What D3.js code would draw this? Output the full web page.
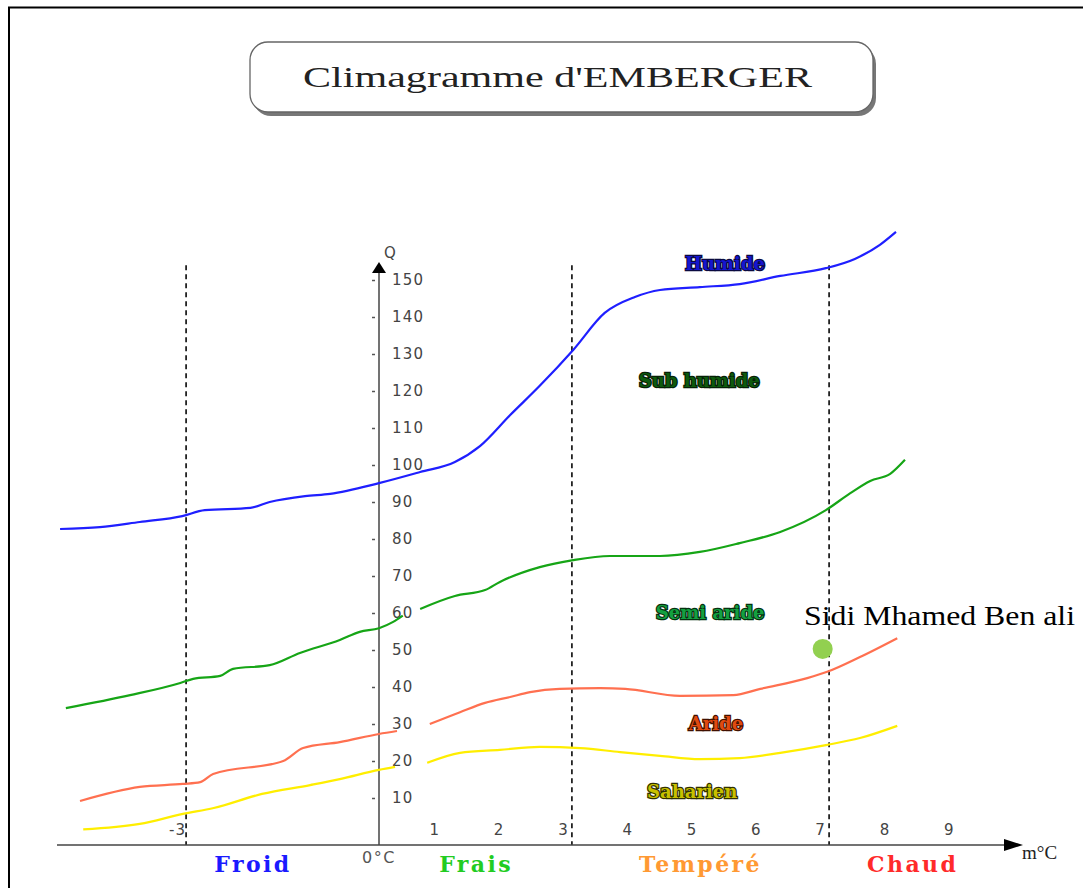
<!DOCTYPE html>
<html><head><meta charset="utf-8">
<script src="https://cdn.jsdelivr.net/npm/d3@7"></script>
<style>body{margin:0;background:#fff}svg{display:block}</style>
</head><body>
<script>
// ---- data (m in °C, Q) ----
const humideLimit = [[-4.96,82.7],[-4.34,83.2],[-3.72,84.6],[-3.06,86.2],[-2.71,87.8],[-2.0,88.4],[-1.70,90.0],[-1.15,91.6],[-0.76,92.2],[0,95.1],[0.64,98.1],[1.18,100.8],[1.57,105.1],[2.04,113.5],[2.50,121.4],[3.02,131.1],[3.51,141.1],[3.98,145.4],[4.37,147.3],[4.99,148.1],[5.61,148.9],[6.24,151.1],[6.95,153.2],[7.40,155.7],[7.79,159.5],[8.04,163.0]];
const subHumideLimit = [[-4.87,34.3],[-3.87,37.8],[-3.09,41.1],[-2.89,42.2],[-2.47,43.0],[-2.27,44.9],[-1.70,45.9],[-1.23,49.2],[-0.61,52.7],[-0.30,54.9],[0,55.9],[0.22,57.6],[0.37,59.3],null,[0.64,61.1],[1.18,64.6],[1.65,66.2],[1.88,68.4],[2.50,72.4],[3.02,74.3],[3.59,75.4],[4.37,75.4],[4.99,76.5],[5.61,78.9],[6.24,81.9],[6.95,87.8],[7.33,92.4],[7.64,95.7],[7.95,97.6],[8.18,101.4]];
const semiArideLimit = [[-4.65,9.2],[-3.72,13.0],[-3.05,13.8],[-2.78,14.3],[-2.58,16.5],[-1.49,20.0],[-1.18,23.5],[-0.61,25.1],[0,27.3],[0.28,28.1],null,[0.79,30.0],[1.26,33.2],[1.65,35.7],[2.04,37.3],[2.35,38.6],[2.81,39.5],[3.44,39.7],[3.83,39.5],[4.68,37.6],[5.51,37.8],[5.93,39.5],[6.66,42.4],[6.97,44.1],[7.48,48.1],[8.06,53.2]];
const arideLimit = [[-4.60,1.5],[-3.72,3.0],[-3.05,5.7],[-2.57,7.3],[-1.82,11.1],[-1.07,13.5],[-0.61,15.1],[0,17.6],[0.25,18.4],null,[0.75,19.5],[1.26,22.2],[1.88,23.0],[2.50,23.8],[3.13,23.5],[3.75,22.4],[4.37,21.4],[4.99,20.5],[5.61,20.8],[6.24,22.2],[6.95,24.3],[7.48,26.2],[8.06,29.5]];
const yTicks = [10,20,30,40,50,60,70,80,90,100,110,120,130,140,150];
const xTicks = [-3,1,2,3,4,5,6,7,8,9];
const dividers = [-3,3,7];
const zones = ["Froid","0°C","Frais","Tempéré","Chaud"];
const zoneCentres = [-1.96,0,1.51,5.0,8.3];
const bioclimates = ["Humide","Sub humide","Semi aride","Aride","Saharien"];
const bioPos = [[5.38,152.7],[4.98,121.1],[5.15,58.4],[5.24,28.4],[4.87,10.0]];
const station = {name:"Sidi Mhamed Ben ali", m:6.9, Q:50.3};

const W=1083,H=888;
const svg=d3.select("body").append("svg").attr("width",W).attr("height",H);
const x=d3.scaleLinear().domain([0,9]).range([379,379+64.3*9]);
const y=d3.scaleLinear().domain([0,150]).range([835,280]);
const axisY=845;

// frame
svg.append("path").attr("d",`M9,${H} V7.5 H${W}`).attr("fill","none").attr("stroke","#000").attr("stroke-width",2);

// title box
const tb={x:250,y:42,w:623,h:70};
svg.append("rect").attr("x",tb.x+3).attr("y",tb.y+4).attr("width",tb.w).attr("height",tb.h).attr("rx",18).attr("fill","#777");
svg.append("rect").attr("x",tb.x).attr("y",tb.y).attr("width",tb.w).attr("height",tb.h).attr("rx",18).attr("fill","#fff").attr("stroke","#666").attr("stroke-width",1.3);
svg.append("text").attr("x",303).attr("y",87)
  .attr("textLength",509).attr("lengthAdjust","spacingAndGlyphs")
  .attr("font-family","Liberation Serif, serif").attr("font-size",30).attr("fill","#222").text("Climagramme d'EMBERGER");

// dividers
svg.append("g").selectAll("line").data(dividers).join("line")
  .attr("x1",d=>x(d)).attr("x2",d=>x(d)).attr("y1",y(154)).attr("y2",axisY)
  .attr("stroke","#222").attr("stroke-width",1.8).attr("stroke-dasharray","5,4");

// axes
svg.append("line").attr("x1",57).attr("x2",1006).attr("y1",axisY).attr("y2",axisY).attr("stroke","#444").attr("stroke-width",1.5);
svg.append("path").attr("d",`M1004,${axisY-6} L1023,${axisY} L1004,${axisY+6} Z`).attr("fill","#000");
svg.append("text").attr("x",1022).attr("y",859).attr("font-family","Liberation Serif, serif").attr("font-size",19).attr("fill","#222").text("m°C");
svg.append("line").attr("x1",x(0)).attr("x2",x(0)).attr("y1",270).attr("y2",axisY).attr("stroke","#444").attr("stroke-width",1.5);
svg.append("path").attr("d",`M${x(0)-7},${273} L${x(0)},${262} L${x(0)+7},${273} Z`).attr("fill","#000");
svg.append("text").attr("x",384).attr("y",258).attr("font-family","DejaVu Sans, sans-serif").attr("font-size",15).attr("fill","#444").text("Q");

const yAxis=d3.axisLeft(y).tickValues(yTicks).tickSize(0).tickPadding(0).tickFormat(d=>d);
const gy=svg.append("g").attr("transform",`translate(${x(0)},0)`).call(yAxis);
gy.select(".domain").remove();
gy.selectAll(".tick").append("line").attr("x1",-7).attr("x2",-4).attr("stroke","#555").attr("stroke-width",1.5);
gy.selectAll(".tick text").attr("x",13).attr("text-anchor","start").attr("fill","#444")
  .attr("font-family","DejaVu Sans, sans-serif").attr("font-size",15).attr("letter-spacing",1.2);

const xAxis=d3.axisBottom(x).tickValues(xTicks).tickSize(0).tickFormat(d=>d);
const gx=svg.append("g").attr("transform",`translate(0,${axisY-24})`).call(xAxis);
gx.select(".domain").remove();
gx.selectAll(".tick text").attr("dx",-9).attr("fill","#444").attr("font-family","DejaVu Sans, sans-serif").attr("font-size",15).attr("letter-spacing",1);

// zone labels
const zoneColors=["#1a1aff","#555","#22cc22","#ff9933","#ff2a2a"];
svg.append("g").selectAll("text").data(zones).join("text")
  .attr("x",(d,i)=>x(zoneCentres[i])).attr("y",(d,i)=>i===1?863:872).attr("text-anchor","middle")
  .attr("font-family",(d,i)=>i===1?"DejaVu Sans, sans-serif":"DejaVu Serif, serif")
  .attr("font-weight",(d,i)=>i===1?"normal":"bold")
  .attr("letter-spacing",(d,i)=>i===1?1.5:2.4)
  .attr("font-size",(d,i)=>i===1?16:22).attr("fill",(d,i)=>zoneColors[i]).text(d=>d);

// curves
const line=d3.line().defined(d=>d!==null).x(d=>x(d[0])).y(d=>y(d[1])).curve(d3.curveMonotoneX);
const series=[[humideLimit,"#1f1fff"],[subHumideLimit,"#16a516"],[semiArideLimit,"#ff7050"],[arideLimit,"#ffee00"]];
svg.append("g").selectAll("path").data(series).join("path")
  .attr("d",d=>line(d[0])).attr("fill","none").attr("stroke",d=>d[1]).attr("stroke-width",2.2);

// bioclimate labels
const bioFill=["#1515d0","#0d5a0d","#14a040","#e04a10","#c8c000"];
const bioStroke=["#0a0a40","#062006","#063010","#401000","#303000"];
svg.append("g").selectAll("text").data(bioclimates).join("text")
  .attr("x",(d,i)=>x(bioPos[i][0])).attr("y",(d,i)=>y(bioPos[i][1])).attr("text-anchor","middle")
  .attr("font-family","DejaVu Serif, serif").attr("font-weight","bold").attr("font-size",18)
  .attr("letter-spacing",0)
  .attr("fill",(d,i)=>bioFill[i]).attr("stroke",(d,i)=>bioStroke[i]).attr("stroke-width",2.4)
  .attr("paint-order","stroke").text(d=>d);

// station
svg.append("circle").attr("cx",x(station.m)).attr("cy",y(station.Q)).attr("r",10).attr("fill","#92d050");
svg.append("text").attr("x",804).attr("y",625).attr("textLength",271).attr("lengthAdjust","spacingAndGlyphs")
  .attr("font-family","Liberation Serif, serif").attr("font-size",28).attr("fill","#000").text(station.name);
</script>
</body></html>
